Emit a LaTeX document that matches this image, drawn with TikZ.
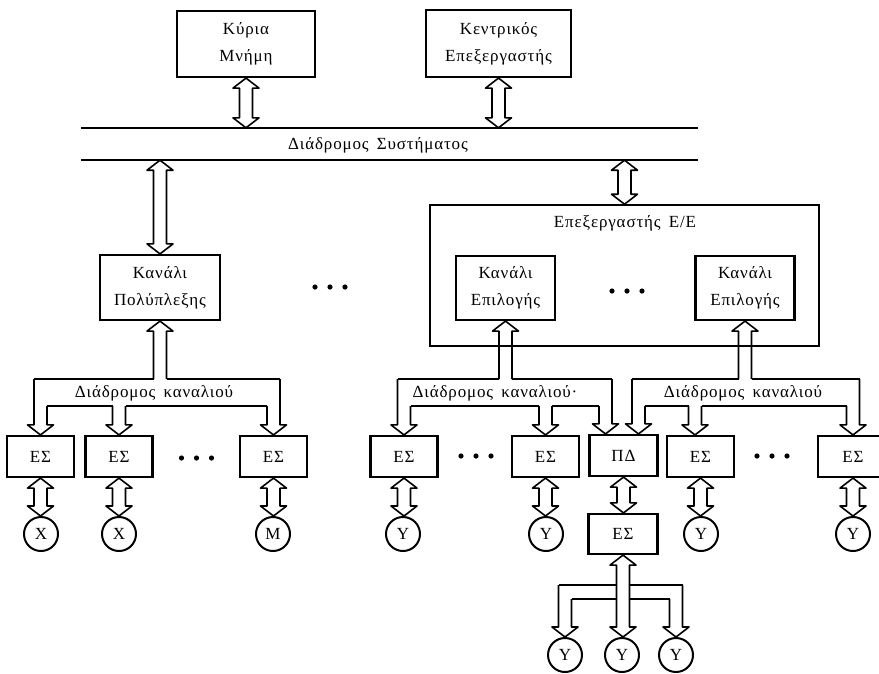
\documentclass[tikz,border=0pt]{standalone}
\usepackage{fontspec}
\setmainfont{Liberation Serif}[LetterSpace=5,WordSpace=1.6]
\usetikzlibrary{calc}

% geometry of the hollow (double-line) bus pipes
\def\pbw{6.5pt}  % half width of a pipe
\def\phw{13pt}   % half width of an arrow head
\def\phl{10pt}   % length of an arrow head

% vertical pipe with a head at both ends: #1 upper tip, #2 lower tip
\newcommand\dblarrow[2]{%
  \draw[pipe] let \p1=(#1), \p2=(#2) in
    (\x1,\y1) -- (\x1-\phw,\y1-\phl) -- (\x1-\pbw,\y1-\phl) -- (\x1-\pbw,\y2+\phl)
    -- (\x1-\phw,\y2+\phl) -- (\x1,\y2) -- (\x1+\phw,\y2+\phl) -- (\x1+\pbw,\y2+\phl)
    -- (\x1+\pbw,\y1-\phl) -- (\x1+\phw,\y1-\phl) -- cycle;}
% stem of a pipe tree, head at the upper tip #1, open end on level #2
\newcommand\pipestem[2]{%
  \draw[pipe] let \p1=(#1), \p2=(#2) in
    (\x1-\pbw,\y2) -- (\x1-\pbw,\y1-\phl) -- (\x1-\phw,\y1-\phl) -- (\x1,\y1)
    -- (\x1+\phw,\y1-\phl) -- (\x1+\pbw,\y1-\phl) -- (\x1+\pbw,\y2);}
% branch of a pipe tree, head at the lower tip #1; sides start on levels #2 and #3
\newcommand\pipebranch[3]{%
  \draw[pipe] let \p1=(#1), \p2=(#2), \p3=(#3) in
    (\x1-\pbw,\y2) -- (\x1-\pbw,\y1+\phl) -- (\x1-\phw,\y1+\phl) -- (\x1,\y1)
    -- (\x1+\phw,\y1+\phl) -- (\x1+\pbw,\y1+\phl) -- (\x1+\pbw,\y3);}
% horizontal trunk line on level #3 between the pipes through #1 and #2
\newcommand\pipetrunk[5]{%
  \draw[pipe] let \p1=(#1), \p2=(#2), \p3=(#3) in (\x1#4,\y3) -- (\x2#5,\y3);}
% three dots
\newcommand\threedots[1]{%
  \foreach \k in {-15,0,15} \fill ([xshift=\k pt]#1) circle (2.6pt);}

\begin{document}
\begin{tikzpicture}[x=1pt,y=-1pt,
  txt/.style={font=\fontsize{17}{27}\selectfont,align=center,inner sep=0pt},
  unit/.style={txt,draw,line width=2.2pt},
  iobox/.style={unit,minimum width=67,minimum height=41},
  dev/.style={txt,draw,circle,line width=2pt,minimum size=34},
  pipe/.style={line width=1.6pt,line join=round,line cap=square},
  busline/.style={line width=1.6pt}]

\useasboundingbox (0,0) rectangle (879,673);
\fill[white] (0,0) rectangle (879,673);

% main memory, CPU and the system bus
\node[unit,minimum width=138,minimum height=66] (mem) at (246,44) {Κύρια\\Μνήμη};
\node[unit,minimum width=145,minimum height=67] (cpu) at (498.5,43.5) {Κεντρικός\\Επεξεργαστής};
\node[inner sep=0pt,minimum width=617,minimum height=32] (bus) at (389.5,144) {};
\node[txt] (buslbl) at (378,145) {Διάδρομος Συστήματος};
\draw[busline] (bus.north west) -- (bus.north east);
\draw[busline] (bus.south west) -- (bus.south east);
\dblarrow{mem.south}{mem.south |- bus.north}
\dblarrow{cpu.south}{cpu.south |- bus.north}

% multiplexer channel
\node[unit,minimum width=120,minimum height=65] (mux) at (160,287.5) {Κανάλι\\Πολύπλεξης};
\dblarrow{bus.south -| mux.north}{mux.north}
\coordinate (d1) at (330,287);
\threedots{d1}

% I/O processor with its selector channels
\node[draw,line width=1.6pt,minimum width=389,minimum height=141,inner sep=0pt] (iop) at (624.5,275.5) {};
\node[txt] (ioplbl) at (625,223) {Επεξεργαστής Ε/Ε};
\dblarrow{bus.south -| iop.north}{iop.north}
\node[unit,minimum width=99,minimum height=64] (sel1) at (505.5,288) {Κανάλι\\Επιλογής};
\node[unit,minimum width=99,minimum height=64] (sel2) at (745,288) {Κανάλι\\Επιλογής};
\coordinate (d2) at (627,291);
\threedots{d2}

% device controllers
\node[iobox] (es1) at (40.5,456.5) {ΕΣ};
\node[iobox] (es2) at (119,456.5) {ΕΣ};
\node[iobox] (es3) at (273.5,456.5) {ΕΣ};
\node[iobox] (esA) at (404,456.5) {ΕΣ};
\node[iobox] (esB) at (545.5,456.5) {ΕΣ};
\node[iobox,minimum width=68] (pd) at (623.5,455.5) {ΠΔ};
\node[iobox] (esC) at (700.5,456.5) {ΕΣ};
\node[iobox,minimum width=70] (esD) at (853,456.5) {ΕΣ};
\node[iobox,minimum width=69,minimum height=40] (esE) at (623,534) {ΕΣ};
\coordinate (d3) at (196.5,458);
\coordinate (d4) at (476,456);
\coordinate (d5) at (772,456);
\threedots{d3}
\threedots{d4}
\threedots{d5}

% devices
\node[dev] (x1) at (41,534) {Χ};
\node[dev] (x2) at (119,534) {Χ};
\node[dev] (m1) at (273,534) {Μ};
\node[dev] (ya) at (403,534) {Υ};
\node[dev] (yb) at (546,534) {Υ};
\node[dev] (yc) at (701,534) {Υ};
\node[dev] (yd) at (853,534) {Υ};
\node[dev] (yb1) at (565,655) {Υ};
\node[dev] (yb2) at (622,655) {Υ};
\node[dev] (yb3) at (676,655) {Υ};

\foreach \c/\d in {es1/x1,es2/x2,es3/m1,esA/ya,esB/yb,esC/yc,esD/yd}
  \dblarrow{\c.south}{\c.south |- \d.north};
\dblarrow{pd.south}{pd.south |- esE.north}

% trunk levels of the channel buses
\coordinate (tt) at (0,379);
\coordinate (tb) at (0,406);
\coordinate (bt) at (0,585);
\coordinate (bb) at (0,599);

% channel bus of the multiplexer channel
\pipestem{mux.south}{tt}
\pipebranch{es1.north}{tt}{tb}
\pipebranch{es2.north}{tb}{tb}
\pipebranch{es3.north}{tb}{tt}
\pipetrunk{es1.north}{mux.south}{tt}{-\pbw}{-\pbw}
\pipetrunk{mux.south}{es3.north}{tt}{+\pbw}{+\pbw}
\pipetrunk{es1.north}{es2.north}{tb}{+\pbw}{-\pbw}
\pipetrunk{es2.north}{es3.north}{tb}{+\pbw}{-\pbw}
\node[txt] (lbl1) at (154,393) {Διάδρομος καναλιού};

% channel bus of the first selector channel
\coordinate (pdl) at ([xshift=-18pt]pd.north);
\pipestem{sel1.south}{tt}
\pipebranch{esA.north}{tt}{tb}
\pipebranch{esB.north}{tb}{tb}
\pipebranch{pdl}{tb}{tt}
\pipetrunk{esA.north}{sel1.south}{tt}{-\pbw}{-\pbw}
\pipetrunk{sel1.south}{pdl}{tt}{+\pbw}{+\pbw}
\pipetrunk{esA.north}{esB.north}{tb}{+\pbw}{-\pbw}
\pipetrunk{esB.north}{pdl}{tb}{+\pbw}{-\pbw}
\node[txt] (lbl2) at (495,393) {Διάδρομος καναλιού·};

% channel bus of the second selector channel
\coordinate (pdr) at ([xshift=15pt]pd.north);
\coordinate (escb) at ([xshift=-5.5pt]esC.north);
\pipestem{sel2.south}{tt}
\pipebranch{pdr}{tt}{tb}
\pipebranch{escb}{tb}{tb}
\pipebranch{esD.north}{tb}{tt}
\pipetrunk{pdr}{sel2.south}{tt}{-\pbw}{-\pbw}
\pipetrunk{sel2.south}{esD.north}{tt}{+\pbw}{+\pbw}
\pipetrunk{pdr}{escb}{tb}{+\pbw}{-\pbw}
\pipetrunk{escb}{esD.north}{tb}{+\pbw}{-\pbw}
\node[txt] (lbl3) at (743,393) {Διάδρομος καναλιού};

% bus below the shared controller
\dblarrow{esE.south}{esE.south |- yb2.north}
\pipebranch{yb1.north}{bt}{bb}
\pipebranch{yb3.north}{bb}{bt}
\pipetrunk{yb1.north}{esE.south}{bt}{-\pbw}{-\pbw}
\pipetrunk{yb1.north}{esE.south}{bb}{+\pbw}{-\pbw}
\pipetrunk{esE.south}{yb3.north}{bt}{+\pbw}{+\pbw}
\pipetrunk{esE.south}{yb3.north}{bb}{+\pbw}{-\pbw}
\end{tikzpicture}
\end{document}
